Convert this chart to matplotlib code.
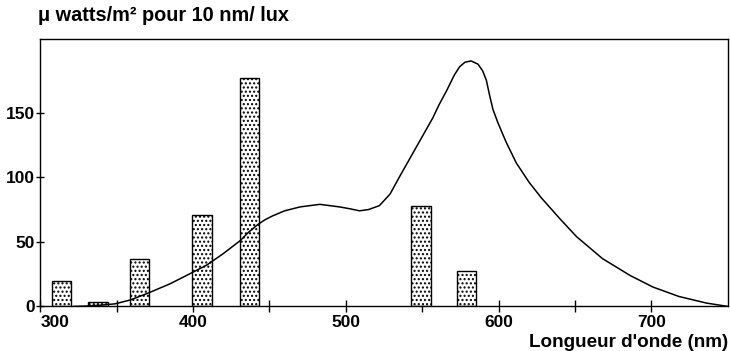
import numpy as np
import matplotlib
matplotlib.use('Agg')
import matplotlib.pyplot as plt

# mercury lines (nm) and their power per lux
line_nm = [314, 338, 365, 406, 437, 549, 579]
line_power = [20, 3.5, 37, 71, 177, 78, 27.5]

# continuous spectrum of the lamp
curve_nm = [322, 330, 340, 349, 359, 370, 385, 400, 409, 420, 431, 436, 442, 447,
            452, 460, 470, 483, 496, 503, 509, 515, 522, 529, 535, 546, 557, 561,
            566, 571, 574.5, 578, 582, 586.5, 589.5, 592, 594, 596.3, 599.6, 605,
            611.6, 620, 628, 640, 651, 668, 686, 701, 718, 736, 750]
curve_power = [0, 0.3, 1, 2, 5, 10, 17.5, 26.5, 32, 41, 51, 57, 63, 67,
               70, 74, 77, 79, 77, 75.5, 74, 75, 78, 87, 100, 123, 146, 156,
               167, 179, 185.5, 189, 190, 187.5, 182.5, 175, 164, 152.5, 142, 127,
               111, 96, 84, 68, 54, 37, 24, 15, 7.7, 2.6, 0]

x_major = [300, 400, 500, 600, 700]
x_minor = [350, 450, 550, 650]
y_ticks = [0, 50, 100, 150]


def draw_spectrum(ax):
    '''
    bars for the lines, thin line for the continuum
    :param ax:
    :return:
    '''
    plt.rcParams['hatch.linewidth'] = 1.0
    ax.bar(line_nm, line_power, width=13, facecolor='white', edgecolor='black',
           linewidth=1.0, hatch='....', zorder=2)
    ax.plot(curve_nm, curve_power, color='black', linewidth=1.1, zorder=3,
            solid_joinstyle='round')


if __name__ == '__main__':
    plt.rcParams['font.family'] = ['Liberation Sans', 'DejaVu Sans']

    fig = plt.figure(figsize=(7.3, 3.51), dpi=100)
    ax = fig.add_axes([0.055, 0.127, 0.942, 0.762])

    draw_spectrum(ax)

    ax.set_xlim(300, 750)
    ax.set_ylim(0, 207)

    ax.set_xticks(x_major)
    ax.set_xticks(x_minor, minor=True)
    ax.set_yticks(y_ticks)
    ax.tick_params(axis='x', which='both', direction='inout', length=8, width=1,
                   labelsize=12.5, pad=2)
    ax.tick_params(axis='y', direction='inout', length=6, width=1,
                   labelsize=12.5, pad=1)
    for lab in ax.get_xticklabels() + ax.get_yticklabels():
        lab.set_fontweight('bold')
    ax.get_xticklabels()[0].set_horizontalalignment('left')

    for sp in ax.spines.values():
        sp.set_linewidth(1.0)

    fig.text(0.052, 0.93, 'μ watts/m² pour 10 nm/ lux', fontsize=14.3,
             fontweight='bold', ha='left', va='bottom')
    fig.text(0.997, 0.0, "Longueur d'onde (nm)", fontsize=13.6,
             fontweight='bold', ha='right', va='bottom')

    fig.savefig('out.png', dpi=100)
